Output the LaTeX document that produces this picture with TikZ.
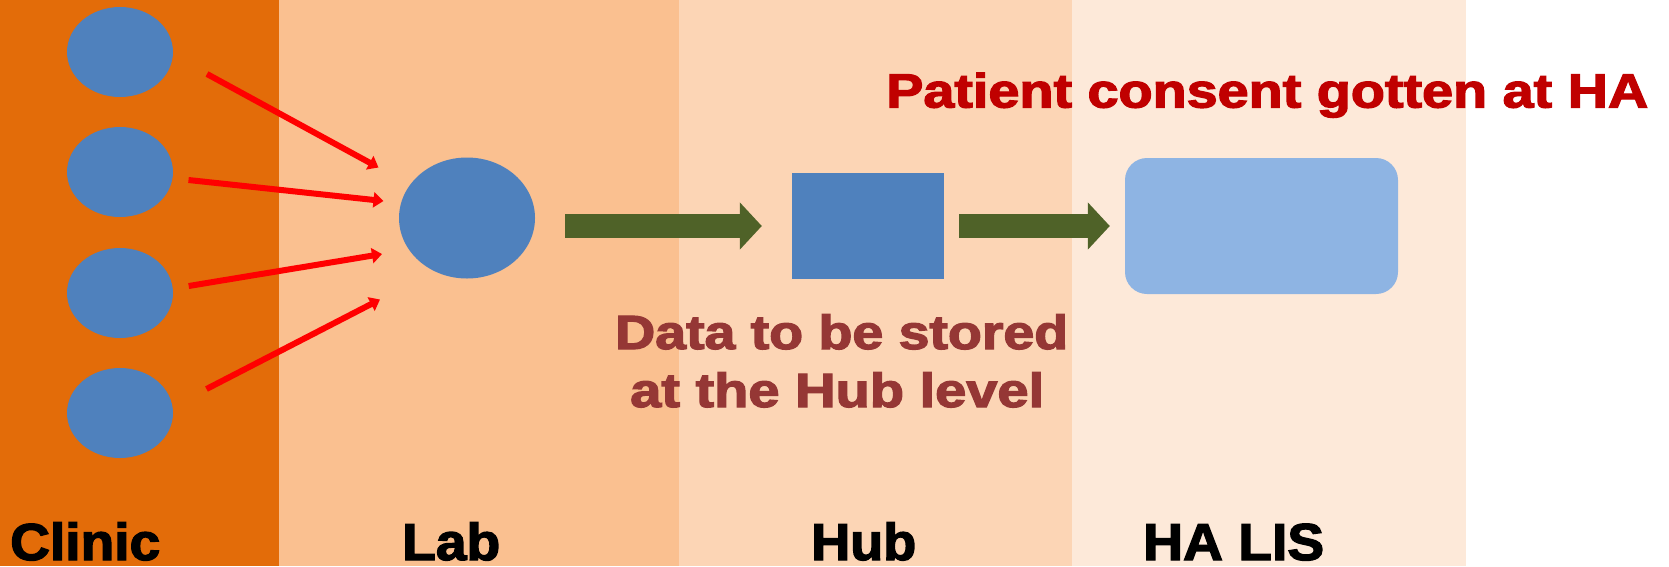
\documentclass[tikz,border=0pt]{standalone}
\usepackage{fontspec}
\setmainfont{Liberation Sans}
\newfontfamily\heavy[FakeBold=2.5]{Liberation Sans Bold}
\usetikzlibrary{shapes.geometric,arrows.meta}
\definecolor{clinicband}{HTML}{E36C09}
\definecolor{labband}{HTML}{FAC090}
\definecolor{hubband}{HTML}{FCD5B5}
\definecolor{haband}{HTML}{FDE9D9}
\definecolor{blueA}{HTML}{4F81BD}
\definecolor{lightblue}{HTML}{8EB4E3}
\definecolor{greenA}{HTML}{4F6228}
\definecolor{redA}{HTML}{FF0000}
\definecolor{noteA}{HTML}{953735}
\definecolor{noteB}{HTML}{C00000}
\begin{document}
\begin{tikzpicture}[x=1pt,y=-1pt,
  dot/.style={ellipse, fill=blueA, draw=none, inner sep=0pt},
  feed/.style={draw=redA, line width=6pt, -{Triangle[length=10pt,width=15pt]}},
  flow/.style={draw=greenA, line width=24pt, -{Triangle[length=22pt,width=46pt]}},
  lbl/.style={anchor=base west, inner sep=0pt, text=black, font=\heavy\fontsize{52}{52}\selectfont},
  note/.style={anchor=base west, inner sep=0pt, font=\heavy\fontsize{48}{48}\selectfont}
]
\useasboundingbox (0,0) rectangle (1669,566);
\fill[white] (0,0) rectangle (1669,566);
\fill[clinicband] (0,0) rectangle (279,566);
\fill[labband] (279,0) rectangle (679,566);
\fill[hubband] (679,0) rectangle (1072,566);
\fill[haband] (1072,0) rectangle (1466,566);

\node[dot, minimum width=106pt, minimum height=90pt] (c1) at (120,52) {};
\node[dot, minimum width=106pt, minimum height=90pt] (c2) at (120,172) {};
\node[dot, minimum width=106pt, minimum height=90pt] (c3) at (120,293) {};
\node[dot, minimum width=106pt, minimum height=90pt] (c4) at (120,413) {};
\node[dot, minimum width=136pt, minimum height=121pt] (lab) at (467,218) {};
\node[fill=blueA, draw=none, inner sep=0pt, minimum width=152pt, minimum height=106pt] (hub) at (868,226) {};
\node[fill=lightblue, draw=none, rounded corners=22pt, inner sep=0pt, minimum width=273pt, minimum height=136pt] (halis) at (1261.5,226) {};

\coordinate (f1s) at (207,74);   \coordinate (f1e) at (378.5,167.5);
\coordinate (f2s) at (188.5,180); \coordinate (f2e) at (383.5,201);
\coordinate (f3s) at (188.7,286); \coordinate (f3e) at (382,254);
\coordinate (f4s) at (206.5,389); \coordinate (f4e) at (380,299.5);
\draw[feed] (f1s) -- (f1e);
\draw[feed] (f2s) -- (f2e);
\draw[feed] (f3s) -- (f3e);
\draw[feed] (f4s) -- (f4e);

\draw[flow, shorten <=30pt, shorten >=30pt] (lab.east |- hub.west) -- (hub.west);
\draw[flow, shorten <=15pt, shorten >=15pt] (hub.east) -- (halis.west);

\node[note, text=noteB] (consent) at (886,107.5) {\resizebox{762pt}{\height}{Patient consent gotten at HA}};
\node[note, text=noteA] (store1) at (615,349) {\resizebox{453pt}{\height}{Data to be stored}};
\node[note, text=noteA] (store2) at (630,407) {\resizebox{414pt}{\height}{at the Hub level}};

\node[lbl] (lclinic) at (10,560) {\resizebox{150pt}{\height}{Clinic}};
\node[lbl] (llab) at (402,560) {\resizebox{98pt}{\height}{Lab}};
\node[lbl] (lhub) at (811,560) {\resizebox{105pt}{\height}{Hub}};
\node[lbl] (lha) at (1143,560) {\resizebox{181pt}{\height}{HA LIS}};
\end{tikzpicture}
\end{document}
